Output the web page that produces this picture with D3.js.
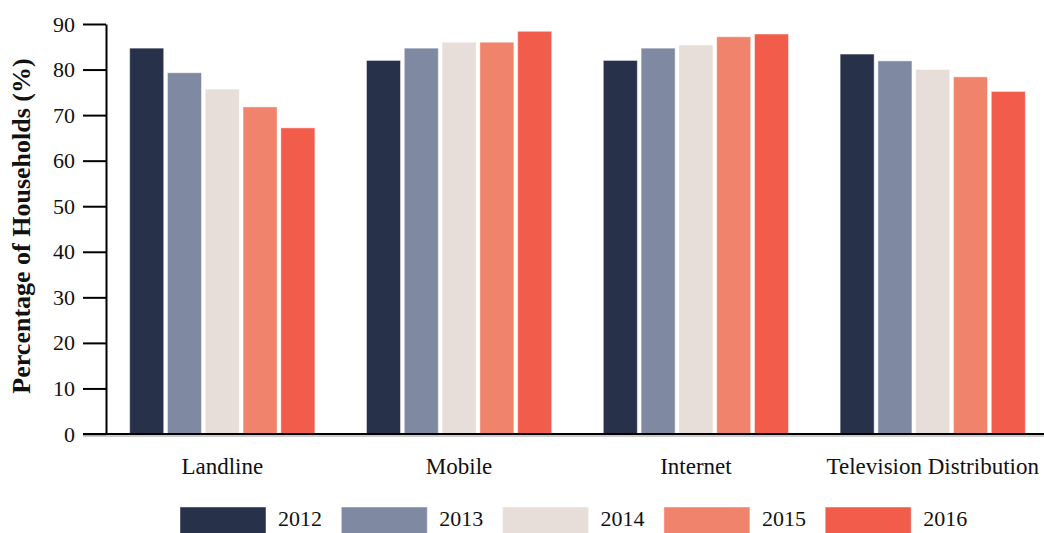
<!DOCTYPE html>
<html>
<head>
<meta charset="utf-8">
<script src="https://cdn.jsdelivr.net/npm/d3@7"></script>
<style>
  body { margin: 0; background: #fff; }
  svg { display: block; font-family: "Liberation Serif", "DejaVu Serif", serif; }
</style>
</head>
<body>
<div id="chart"></div>
<script>
const categories = ["Landline", "Mobile", "Internet", "Television Distribution"];
const years = ["2012", "2013", "2014", "2015", "2016"];
const values2012 = [84.7, 82.0, 82.0, 83.4];
const values2013 = [79.3, 84.7, 84.7, 81.9];
const values2014 = [75.7, 86.0, 85.4, 80.0];
const values2015 = [71.8, 86.0, 87.2, 78.4];
const values2016 = [67.2, 88.4, 87.8, 75.2];
const yTicks = [0, 10, 20, 30, 40, 50, 60, 70, 80, 90];

const seriesValues = [values2012, values2013, values2014, values2015, values2016];
const colours = ["#27324a", "#7f8aa2", "#e7ddd9", "#f0836b", "#f25c4b"];

const width = 1044, height = 533;
const svg = d3.select("#chart").append("svg")
  .attr("width", width)
  .attr("height", height);

const axisX = 106;
const y = d3.scaleLinear().domain([0, 90]).range([434, 24]);

const x0 = d3.scaleBand()
  .domain(categories)
  .range([axisX, 1049])
  .paddingInner(0.218)
  .paddingOuter(0.1);

const x1 = d3.scaleBand()
  .domain(years)
  .range([0, x0.bandwidth()])
  .paddingInner(0.1)
  .paddingOuter(0);

const colour = d3.scaleOrdinal().domain(years).range(colours);

// bars
const groups = svg.append("g").selectAll("g")
  .data(categories)
  .enter()
  .append("g")
  .attr("transform", d => `translate(${x0(d)},0)`);

groups.selectAll("rect")
  .data((cat, ci) => years.map((yr, si) => ({ year: yr, value: seriesValues[si][ci] })))
  .enter()
  .append("rect")
  .attr("x", d => x1(d.year))
  .attr("y", d => y(d.value))
  .attr("width", x1.bandwidth())
  .attr("height", d => y(0) - y(d.value))
  .attr("fill", d => colour(d.year))
  .attr("stroke", "#ffffff")
  .attr("stroke-opacity", 0.45)
  .attr("stroke-width", 1);

// y axis
const yAxis = svg.append("g")
  .attr("transform", `translate(${axisX},0)`)
  .call(d3.axisLeft(y).tickValues(yTicks).tickSize(23).tickSizeOuter(0).tickPadding(8));

yAxis.attr("font-family", null).attr("font-size", null);
yAxis.select(".domain").attr("stroke", "#000").attr("stroke-width", 2);
yAxis.selectAll(".tick line").attr("stroke", "#000").attr("stroke-width", 2);
yAxis.selectAll(".tick text")
  .attr("font-size", "22px")
  .attr("fill", "#111");

// x axis baseline
svg.append("line")
  .attr("x1", axisX - 23)
  .attr("x2", width)
  .attr("y1", y(0) + 2)
  .attr("y2", y(0) + 2)
  .attr("stroke", "#bbb")
  .attr("stroke-width", 1.5);
svg.append("line")
  .attr("x1", axisX - 23)
  .attr("x2", width)
  .attr("y1", y(0))
  .attr("y2", y(0))
  .attr("stroke", "#000")
  .attr("stroke-width", 2);

// category labels
svg.append("g").selectAll("text")
  .data(categories)
  .enter()
  .append("text")
  .attr("x", d => x0(d) + x0.bandwidth() / 2)
  .attr("y", 474)
  .attr("text-anchor", "middle")
  .attr("font-size", "23px")
  .attr("fill", "#111")
  .text(d => d);

// y label
svg.append("text")
  .attr("transform", `translate(30,226) rotate(-90)`)
  .attr("text-anchor", "middle")
  .attr("font-size", "26px")
  .attr("font-weight", "bold")
  .attr("fill", "#111")
  .text("Percentage of Households (%)");

// legend
const legend = svg.append("g").selectAll("g")
  .data(years)
  .enter()
  .append("g")
  .attr("transform", (d, i) => `translate(${180 + i * 161.3},507)`);

legend.append("rect")
  .attr("width", 86)
  .attr("height", 28)
  .attr("fill", d => colour(d))
  .attr("stroke", "#fff")
  .attr("stroke-opacity", 0.45);

legend.append("text")
  .attr("x", 98)
  .attr("y", 19)
  .attr("font-size", "22px")
  .attr("fill", "#111")
  .text(d => d);
</script>
</body>
</html>
